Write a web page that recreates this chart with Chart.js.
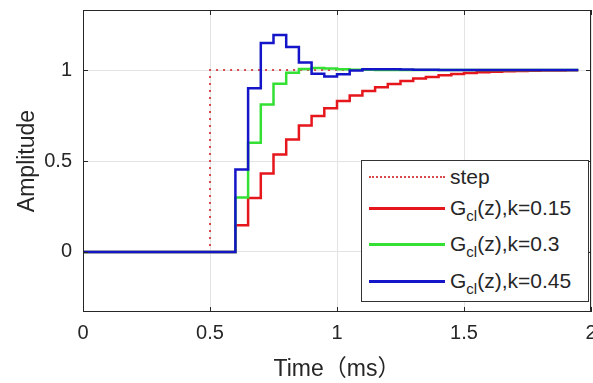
<!DOCTYPE html>
<html>
<head>
<meta charset="utf-8">
<script src="https://cdn.jsdelivr.net/npm/chart.js@4"></script>
<style>
    body { margin: 0; background: #fff; }
    #wrap { position: relative; width: 593px; height: 383px; }
    #legend {
        position: absolute; left: 361px; top: 160px; width: 226px; height: 140px;
        background: #fff; border: 1px solid #333;
        font-family: 'Liberation Sans', Arial, sans-serif; font-size: 21px; color: #262626;
    }
    #legend .row { position: absolute; left: 0; display: flex; align-items: center; height: 30px; }
    #legend .swatch { width: 76px; margin-left: 7px; margin-right: 5px; border-top: 3px solid; }
    #legend .swatch.dotted { border-top: 2px dotted; }
    #legend sub { font-size: 15px; vertical-align: -6px; line-height: 0; }
</style>
</head>
<body>
<div id="wrap">
    <canvas id="chart" width="593" height="383"></canvas>
    <div id="legend"></div>
</div>
<script>
// --- DATOS ---
const times = [0, 0.05, 0.1, 0.15, 0.2, 0.25, 0.3, 0.35, 0.4, 0.45,
    0.5, 0.55, 0.6, 0.65, 0.7, 0.75, 0.8, 0.85, 0.9, 0.95,
    1.0, 1.05, 1.1, 1.15, 1.2, 1.25, 1.3, 1.35, 1.4, 1.45,
    1.5, 1.55, 1.6, 1.65, 1.7, 1.75, 1.8, 1.85, 1.9, 1.95];

const stepInput = [0, 0, 0, 0, 0, 0, 0, 0, 0, 0,
    1, 1, 1, 1, 1, 1, 1, 1, 1, 1,
    1, 1, 1, 1, 1, 1, 1, 1, 1, 1,
    1, 1, 1, 1, 1, 1, 1, 1, 1, 1];

const respK015 = [0, 0, 0, 0, 0, 0, 0, 0, 0, 0,
    0, 0, 0.147, 0.297, 0.431, 0.536, 0.618, 0.695, 0.747, 0.79,
    0.83, 0.86, 0.885, 0.905, 0.923, 0.94, 0.953, 0.962, 0.971, 0.978,
    0.984, 0.988, 0.991, 0.993, 0.995, 0.996, 0.997, 0.998, 0.999, 0.999];

const respK030 = [0, 0, 0, 0, 0, 0, 0, 0, 0, 0,
    0, 0, 0.30, 0.60, 0.81, 0.925, 0.985, 1.006, 1.011, 1.008,
    1.004, 1.002, 1.001, 1.0, 1.0, 1.0, 1.0, 1.0, 1.0, 1.0,
    1.0, 1.0, 1.0, 1.0, 1.0, 1.0, 1.0, 1.0, 1.0, 1.0];

const respK045 = [0, 0, 0, 0, 0, 0, 0, 0, 0, 0,
    0, 0, 0.453, 0.90, 1.148, 1.193, 1.127, 1.042, 0.979, 0.965,
    0.977, 0.998, 1.004, 1.005, 1.004, 1.003, 1.002, 1.001, 1.0, 1.0,
    1.0, 1.0, 1.0, 1.0, 1.0, 1.0, 1.0, 1.0, 1.0, 1.0];

const xTicks = [0, 0.5, 1, 1.5, 2];
const yTicks = [0, 0.5, 1];

const seriesNames = ['step', 'G<sub>cl</sub>(z),k=0.15', 'G<sub>cl</sub>(z),k=0.3', 'G<sub>cl</sub>(z),k=0.45'];
const seriesColors = ['#d9484a', '#e5161c', '#33e033', '#1414c8'];

const FONT = "'Liberation Sans', Arial, 'Noto Sans CJK SC', sans-serif";
const TEXT = '#262626';

const toPoints = vals => times.map((t, i) => ({ x: t, y: vals[i] }));

// marco y marcas de graduación hacia dentro (estilo MATLAB)
const axisFrame = {
    id: 'axisFrame',
    afterDraw(chart) {
        const { ctx, chartArea: a, scales: { x, y } } = chart;
        const len = 5;
        ctx.save();
        ctx.strokeStyle = '#262626';
        ctx.lineWidth = 1;
        ctx.strokeRect(a.left + 0.5, a.top + 0.5, a.width - 1, a.height - 1);
        ctx.beginPath();
        xTicks.forEach(v => {
            const px = Math.round(x.getPixelForValue(v)) + 0.5;
            ctx.moveTo(px, a.bottom); ctx.lineTo(px, a.bottom - len);
            ctx.moveTo(px, a.top); ctx.lineTo(px, a.top + len);
        });
        yTicks.forEach(v => {
            const py = Math.round(y.getPixelForValue(v)) + 0.5;
            ctx.moveTo(a.left, py); ctx.lineTo(a.left + len, py);
            ctx.moveTo(a.right, py); ctx.lineTo(a.right - len, py);
        });
        ctx.stroke();
        ctx.restore();
    }
};

const datasets = [
    { label: 'step', data: toPoints(stepInput), borderColor: seriesColors[0], borderWidth: 2, borderDash: [2, 5], order: 4 },
    { label: 'Gcl(z),k=0.15', data: toPoints(respK015), borderColor: seriesColors[1], borderWidth: 2.5, order: 3 },
    { label: 'Gcl(z),k=0.3', data: toPoints(respK030), borderColor: seriesColors[2], borderWidth: 2.5, order: 2 },
    { label: 'Gcl(z),k=0.45', data: toPoints(respK045), borderColor: seriesColors[3], borderWidth: 2.5, order: 1 }
];
datasets.forEach(d => { d.stepped = true; d.pointRadius = 0; d.fill = false; });

new Chart(document.getElementById('chart'), {
    type: 'line',
    data: { datasets },
    options: {
        responsive: false,
        animation: false,
        layout: { padding: { top: 10, right: 2, left: 0, bottom: 0 } },
        plugins: { legend: { display: false }, tooltip: { enabled: false } },
        scales: {
            x: {
                type: 'linear', min: 0, max: 2,
                afterBuildTicks: s => { s.ticks = xTicks.map(v => ({ value: v })); },
                afterFit: s => { s.height = 71; s.paddingLeft = 0; s.paddingRight = 0; },
                grid: { color: '#e3e3e3', drawTicks: false },
                border: { display: false },
                ticks: { padding: 9, color: TEXT, font: { family: FONT, size: 20 }, callback: v => String(v), maxRotation: 0 },
                title: { display: true, text: 'Time（ms）', color: TEXT, font: { family: FONT, size: 23 }, padding: { top: 0, bottom: 0 } }
            },
            y: {
                type: 'linear', min: -0.33, max: 1.33,
                afterBuildTicks: s => { s.ticks = yTicks.map(v => ({ value: v })); },
                afterFit: s => { s.width = 83; s.paddingTop = 0; s.paddingBottom = 0; },
                grid: { color: '#e3e3e3', drawTicks: false },
                border: { display: false },
                ticks: { padding: 11, color: TEXT, font: { family: FONT, size: 20 }, callback: v => String(v) },
                title: { display: true, text: 'Amplitude', color: TEXT, font: { family: FONT, size: 23 }, padding: { top: 14, bottom: 0 } }
            }
        }
    },
    plugins: [axisFrame]
});

// --- LEYENDA (HTML para poder usar subíndices) ---
const legend = document.getElementById('legend');
const rowTops = [1, 32, 68, 105];
seriesNames.forEach((name, i) => {
    const row = document.createElement('div');
    row.className = 'row';
    row.style.top = rowTops[i] + 'px';
    const sw = document.createElement('span');
    sw.className = i === 0 ? 'swatch dotted' : 'swatch';
    sw.style.borderColor = seriesColors[i];
    const txt = document.createElement('span');
    txt.innerHTML = name;
    row.appendChild(sw);
    row.appendChild(txt);
    legend.appendChild(row);
});
</script>
</body>
</html>
